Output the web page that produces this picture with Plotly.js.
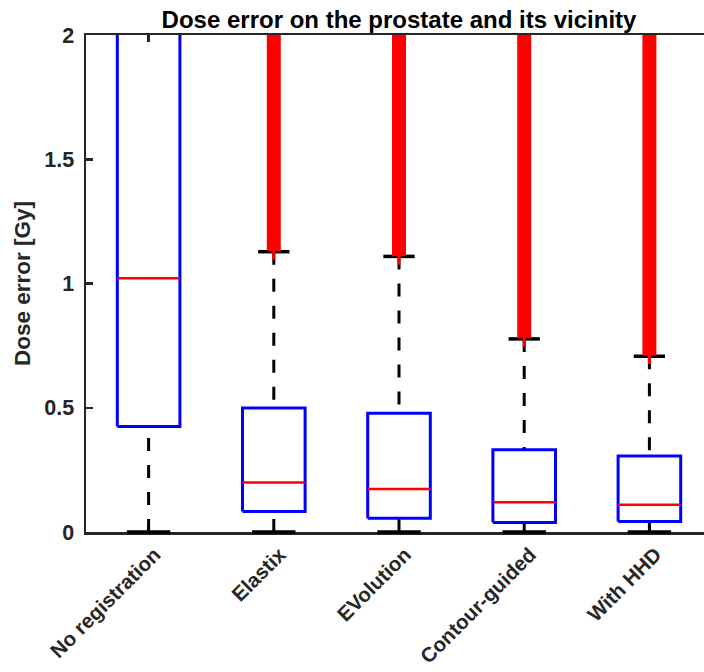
<!DOCTYPE html>
<html>
<head>
<meta charset="utf-8">
<script src="https://cdn.plot.ly/plotly-3.0.1.min.js"></script>
<style>
html, body { margin: 0; padding: 0; overflow: hidden; background: #fff; }
#chart { width: 722px; height: 672px; }
</style>
</head>
<body>
<div id="chart"></div>
<script>
// ---- data ----
const categories = ['No registration', 'Elastix', 'EVolution', 'Contour-guided', 'With HHD'];
const lowerWhisker = [0, 0, 0, 0, 0];
const q1 = [0.425, 0.082, 0.055, 0.038, 0.042];
const medians = [1.021, 0.199, 0.173, 0.120, 0.110];
// first group's upper quartile lies above the visible range (clipped at 2)
const q3 = [2.4, 0.499, 0.478, 0.331, 0.306];
const upperWhisker = [null, 1.128, 1.109, 0.777, 0.707];
// outliers form a dense band from just above the whisker up past the top of the axis
const outlierMin = [null, 1.13, 1.11, 0.78, 0.71];
const outlierMax = [null, 2.5, 2.5, 2.5, 2.5];
const yTicks = [0, 0.5, 1, 1.5, 2];

const pos = categories.map((c, i) => i + 1);
const halfBox = 0.25, halfCap = 0.125;

const bx = [], by = [], mx = [], my = [], wx = [], wy = [], cx = [], cy = [], lx = [], ly = [], ox = [], oy = [], sx = [], sy = [];
pos.forEach((p, i) => {
  bx.push(p - halfBox, p + halfBox, p + halfBox, p - halfBox, p - halfBox, null);
  by.push(q1[i], q1[i], q3[i], q3[i], q1[i], null);
  mx.push(p - halfBox, p + halfBox, null);
  my.push(medians[i], medians[i], null);
  if (upperWhisker[i] !== null) { wx.push(p, p, null); wy.push(upperWhisker[i], q3[i], null); }
  wx.push(p, p, null); wy.push(lowerWhisker[i], q1[i], null);
  if (upperWhisker[i] !== null) { cx.push(p - halfCap, p + halfCap, null); cy.push(upperWhisker[i], upperWhisker[i], null); }
  // lower caps sit on the axis edge: drawn as unclipped markers
  lx.push(p); ly.push(lowerWhisker[i]);
  if (outlierMin[i] !== null) {
    ox.push(p, p, null); oy.push(outlierMin[i], outlierMax[i], null);
    sx.push(p); sy.push(outlierMin[i]);
  }
});

const traces = [
  { x: wx, y: wy, mode: 'lines', line: { color: '#000000', width: 3, dash: '13px,14px' }, hoverinfo: 'skip' },
  { x: cx, y: cy, mode: 'lines', line: { color: '#000000', width: 3.5 }, hoverinfo: 'skip' },
  { x: lx, y: ly, mode: 'markers', cliponaxis: false, marker: { symbol: 'line-ew', size: 31, line: { color: '#000000', width: 3.5 } }, hoverinfo: 'skip' },
  { x: bx, y: by, mode: 'lines', line: { color: '#0000FF', width: 3 }, hoverinfo: 'skip' },
  { x: mx, y: my, mode: 'lines', line: { color: '#FF0000', width: 2.5 }, hoverinfo: 'skip' },
  { x: ox, y: oy, mode: 'lines', line: { color: '#FF0000', width: 14 }, hoverinfo: 'skip' },
  { x: sx, y: sy, mode: 'markers', marker: { symbol: 'line-ns', size: 12, line: { color: '#FF0000', width: 3 } }, hoverinfo: 'skip' }
];

const fontFam = '"Liberation Sans", Arial, Helvetica, sans-serif';
const layout = {
  width: 722, height: 672,
  margin: { l: 86, r: 10, t: 35, b: 140 },
  paper_bgcolor: '#ffffff', plot_bgcolor: '#ffffff',
  showlegend: false,
  font: { family: fontFam, color: '#262626', size: 20, weight: 'bold' },
  title: {
    text: 'Dose error on the prostate and its vicinity',
    font: { family: fontFam, size: 24, color: '#000000', weight: 'bold' },
    x: 0.5, xref: 'paper', xanchor: 'center',
    y: 1, yref: 'paper', yanchor: 'bottom', pad: { b: 7 }
  },
  xaxis: {
    range: [0.5, 5.5], tickvals: pos, ticktext: categories, tickangle: -45,
    showgrid: false, zeroline: false,
    showline: true, linecolor: '#262626', linewidth: 2.5, mirror: 'ticks',
    ticks: 'inside', ticklen: 7, tickwidth: 2.5, tickcolor: '#262626',
    tickfont: { family: fontFam, size: 20.5, color: '#262626', weight: 'bold' },
    ticklabelstandoff: 0, ticklabelshift: 6,
    layer: 'below traces', fixedrange: true
  },
  yaxis: {
    range: [0, 2], tickvals: yTicks,
    showgrid: false, zeroline: false,
    showline: true, linecolor: '#262626', linewidth: 2.5, mirror: 'ticks',
    ticks: 'inside', ticklen: 7, tickwidth: 2.5, tickcolor: '#262626',
    tickfont: { family: fontFam, size: 21.5, color: '#262626', weight: 'bold' },
    ticklabelstandoff: 5,
    title: { text: 'Dose error [Gy]', standoff: 8, font: { family: fontFam, size: 22.5, color: '#262626', weight: 'bold' } },
    layer: 'below traces', fixedrange: true
  }
};

Plotly.newPlot('chart', traces, layout, { staticPlot: true, displayModeBar: false });
</script>
</body>
</html>
